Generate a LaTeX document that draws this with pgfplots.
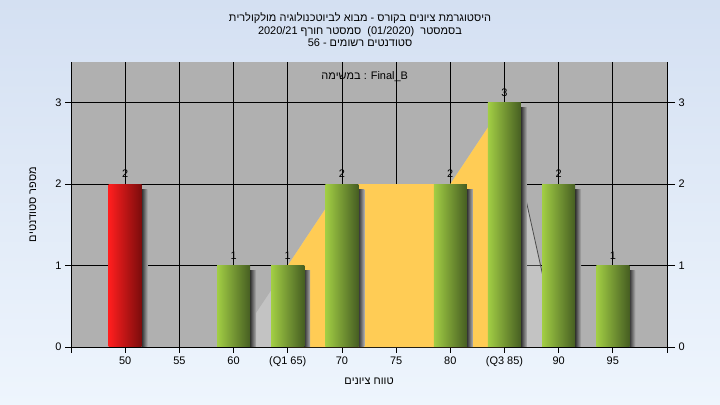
\documentclass[border=0pt]{standalone}
\usepackage{pgfplots}
\pgfplotsset{compat=1.18}
\usepackage{fontspec}
\setmainfont{Liberation Sans}
\TeXXeTstate=1
\definecolor{bgtop}{HTML}{D4E0F2}
\definecolor{bgbot}{HTML}{EEF5FD}
\definecolor{plotbg}{HTML}{B0B0B0}
\definecolor{iqr}{HTML}{FFCC55}
\definecolor{gL}{HTML}{A2CE44}
\definecolor{gM}{HTML}{C8E290}
\definecolor{gR}{HTML}{465E22}
\definecolor{rL}{HTML}{FF1E1E}
\definecolor{rM}{HTML}{EE7575}
\definecolor{rR}{HTML}{7A0C0C}
\definecolor{shD}{HTML}{303030}
\newcommand{\f}{\fontsize{11}{12.5}\selectfont}
\pgfplotsset{
  shadowbar/.style={ybar, bar width=6bp, bar shift=19.5bp, draw=none, left color=shD, right color=plotbg},
  greenbar/.style={ybar, bar width=0.61, bar shift=0pt, draw=none, left color=gL, middle color=gM, right color=gR,
    nodes near coords, every node near coord/.append style={font=\f, text=black, yshift=3bp}},
  redbar/.style={ybar, bar width=0.61, bar shift=0pt, draw=none, left color=rL, middle color=rM, right color=rR,
    nodes near coords, every node near coord/.append style={font=\f, text=black, yshift=3bp}},
}
\begin{document}
\begin{tikzpicture}
\shade[top color=bgtop, bottom color=bgbot] (0,0) rectangle (720bp,405bp);
\node[font=\f, align=center, text=black, inner sep=0pt] at (360bp,375bp) {%
\beginR היסטוגרמת ציונים בקורס - מבוא לביוטכנולוגיה מולקולרית\endR\\
\beginR בסמסטר \ \beginL(01/2020)\endL{} \ סמסטר חורף \beginL 2020/21\endL\endR\\
\beginR סטודנטים רשומים - \beginL 56\endL\endR};
\begin{axis}[at={(71bp,58bp)}, anchor=south west, width=596bp, height=285bp, scale only axis,
  xmin=-1, xmax=10, ymin=0, ymax=3.5,
  axis background/.style={fill=plotbg},
  axis x line*=bottom, axis y line*=left,
  xtick={0,...,9}, xticklabels={50,55,60,(Q1 65),70,75,80,(Q3 85),90,95},
  extra x ticks={-1,10}, extra x tick labels={}, extra x tick style={grid=none},
  ytick={0,1,2,3},
  grid=major, major grid style={black, line width=0.8bp},
  tick align=outside, major tick length=6bp, tick style={black, line width=0.8bp},
  axis line style={black, line width=0.8bp},
  ticklabel style={font=\f, text=black},
  /pgf/number format/assume math mode=true,
  xlabel={\beginR טווח ציונים\endR}, ylabel={\beginR מספר סטודנטים\endR},
  label style={font=\f},
  xlabel style={at={(axis description cs:0.5,-0.119)}, anchor=center},
  ylabel style={at={(axis description cs:-0.064,0.5)}, anchor=center},
  clip=false]
\addplot[fill=white, fill opacity=0.25, draw=none] coordinates {(2,0)(3,1)(4,2)(6,2)(7,3)(8,0)} \closedcycle;
\addplot[fill=iqr, draw=none] coordinates {(3,1)(4,2)(6,2)(7,3)} \closedcycle;
\addplot[black!70, line width=0.8bp] coordinates {(7,3)(8,0)};
\addplot[shadowbar] coordinates {(0,1.94)};
\addplot[shadowbar] coordinates {(2,0.94)};
\addplot[shadowbar] coordinates {(3,0.94)};
\addplot[shadowbar] coordinates {(4,1.94)};
\addplot[shadowbar] coordinates {(6,1.94)};
\addplot[shadowbar] coordinates {(7,2.94)};
\addplot[shadowbar] coordinates {(8,1.94)};
\addplot[shadowbar] coordinates {(9,0.94)};
\addplot[redbar] coordinates {(0,2)};
\addplot[greenbar] coordinates {(2,1)};
\addplot[greenbar] coordinates {(3,1)};
\addplot[greenbar] coordinates {(4,2)};
\addplot[greenbar] coordinates {(6,2)};
\addplot[greenbar] coordinates {(7,3)};
\addplot[greenbar] coordinates {(8,2)};
\addplot[greenbar] coordinates {(9,1)};
\node[font=\f, anchor=center] at (axis cs:4.42,3.32) {\beginR במשימה\endR{} : Final\_B};
\end{axis}
\begin{axis}[at={(71bp,58bp)}, anchor=south west, width=596bp, height=285bp, scale only axis,
  xmin=-1, xmax=10, ymin=0, ymax=3.5,
  axis x line=none, axis y line*=right,
  ytick={0,1,2,3},
  tick align=outside, major tick length=8bp, tick style={black, line width=0.8bp},
  axis line style={black, line width=0.8bp},
  ticklabel style={font=\f, text=black},
  /pgf/number format/assume math mode=true]
\addplot[draw=none] coordinates {(0,0)};
\end{axis}
\pgfresetboundingbox
\useasboundingbox (0,0) rectangle (720bp,405bp);
\end{tikzpicture}
\end{document}
